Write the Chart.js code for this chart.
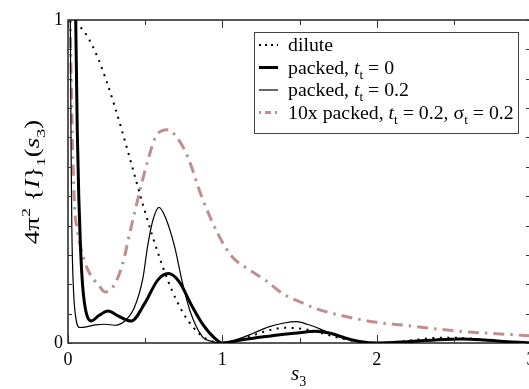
<!DOCTYPE html>
<html>
<head>
<meta charset="utf-8">
<script src="https://cdn.jsdelivr.net/npm/chart.js@4.4.1/dist/chart.umd.min.js"></script>
<style>
    html, body { margin: 0; padding: 0; background: #fff; overflow: hidden; }
    canvas { display: block; }
</style>
</head>
<body>
<canvas id="graficoIntensidad" width="536" height="389"></canvas>
<script>
// Valores (s3 -> 4π² {I}1(s3))
const sDiluido = [0, 0.05, 0.1, 0.15, 0.2, 0.25, 0.3, 0.35, 0.4, 0.45, 0.5, 0.55, 0.6, 0.65, 0.7, 0.75, 0.8, 0.85, 0.9, 0.95, 1, 1.1, 1.2, 1.3, 1.4, 1.5, 1.6, 1.7, 1.8, 1.9, 2, 2.2, 2.4, 2.5, 2.6, 2.8, 3];
const iDiluido = [1, 0.99, 0.967, 0.928, 0.875, 0.81, 0.737, 0.657, 0.573, 0.488, 0.405, 0.327, 0.255, 0.19, 0.135, 0.09, 0.055, 0.029, 0.012, 0.003, 0, 0.008, 0.024, 0.039, 0.047, 0.045, 0.036, 0.023, 0.011, 0.003, 0, 0.007, 0.016, 0.016, 0.014, 0.005, 0];

const sEmpacado0 = [0.03, 0.04, 0.05, 0.06, 0.07, 0.08, 0.09, 0.1, 0.12, 0.15, 0.2, 0.26, 0.32, 0.41, 0.5, 0.58, 0.65, 0.72, 0.8, 0.87, 0.95, 1, 1.1, 1.2, 1.3, 1.4, 1.5, 1.6, 1.7, 1.8, 1.9, 2, 2.2, 2.4, 2.55, 2.7, 2.85, 3];
const iEmpacado0 = [1.6, 1.3, 1.0, 0.66, 0.45, 0.31, 0.21, 0.15, 0.09, 0.068, 0.085, 0.099, 0.085, 0.068, 0.125, 0.194, 0.215, 0.19, 0.117, 0.06, 0.015, 0, 0.008, 0.015, 0.021, 0.027, 0.032, 0.036, 0.03, 0.015, 0.004, 0, 0.004, 0.01, 0.012, 0.009, 0.004, 0];

const sEmpacado02 = [0.008, 0.015, 0.02, 0.025, 0.035, 0.05, 0.075, 0.12, 0.18, 0.24, 0.3, 0.36, 0.43, 0.485, 0.516, 0.55, 0.59, 0.63, 0.69, 0.74, 0.79, 0.87, 0.93, 1, 1.1, 1.2, 1.3, 1.4, 1.48, 1.55, 1.65, 1.75, 1.85, 1.95, 2.1, 2.3, 2.5, 2.7, 2.9, 3];
const iEmpacado02 = [1.5, 1.0, 0.6, 0.35, 0.17, 0.08, 0.048, 0.05, 0.056, 0.058, 0.055, 0.065, 0.11, 0.2, 0.3, 0.38, 0.42, 0.39, 0.3, 0.19, 0.1, 0.02, 0.005, 0, 0.012, 0.03, 0.05, 0.062, 0.066, 0.058, 0.04, 0.02, 0.006, 0.001, 0.002, 0.008, 0.013, 0.009, 0.002, 0];

const sEmpacado10x = [0.008, 0.015, 0.022, 0.03, 0.043, 0.06, 0.087, 0.13, 0.2, 0.24, 0.3, 0.355, 0.4, 0.47, 0.52, 0.57, 0.645, 0.7, 0.775, 0.87, 0.98, 1.065, 1.17, 1.28, 1.4, 1.5, 1.6, 1.7, 1.8, 1.9, 2, 2.2, 2.4, 2.6, 2.8, 3];
const iEmpacado10x = [1.5, 1.0, 0.78, 0.6, 0.42, 0.35, 0.287, 0.225, 0.178, 0.158, 0.18, 0.247, 0.34, 0.48, 0.57, 0.64, 0.66, 0.64, 0.577, 0.448, 0.33, 0.266, 0.228, 0.194, 0.15, 0.128, 0.108, 0.093, 0.082, 0.072, 0.064, 0.054, 0.043, 0.034, 0.028, 0.022];

// Marcas de los ejes
const xMarcas = [0, 0.5, 1, 1.5, 2, 2.5, 3];
const xEtiquetas = ["0", "", "1", "", "2", "", "3"];
const yMarcas = [0, 0.0909, 0.1818, 0.2727, 0.3636, 0.4545, 0.5455, 0.6364, 0.7273, 0.8182, 0.9091, 1];
const yEtiquetas = ["0", "", "", "", "", "", "", "", "", "", "", "1"];

const colorRosa = "#bf8f8f";
const SERIF = "'Liberation Serif', 'DejaVu Serif', serif";

function puntos(xs, ys) {
    return xs.map((x, i) => ({ x: x, y: ys[i] }));
}

// Escribe un texto con partes (cursiva, subíndice, superíndice)
function escribir(ctx, partes, x, y, tam) {
    let px = x;
    partes.forEach(p => {
        const t = p.sub || p.sup ? Math.round(tam * 0.68) : tam;
        ctx.font = (p.it ? "italic " : "") + t + "px " + SERIF;
        const dy = p.sub ? tam * 0.3 : (p.sup ? -tam * 0.45 : 0);
        ctx.fillText(p.t, px, y + dy);
        px += ctx.measureText(p.t).width;
    });
    return px - x;
}

function anchoTexto(ctx, partes, tam) {
    let w = 0;
    partes.forEach(p => {
        const t = p.sub || p.sup ? Math.round(tam * 0.68) : tam;
        ctx.font = (p.it ? "italic " : "") + t + "px " + SERIF;
        w += ctx.measureText(p.t).width;
    });
    return w;
}

const leyenda = [
    { partes: [{ t: "dilute" }], color: "#000", ancho: 2, guion: [2, 4] },
    { partes: [{ t: "packed, " }, { t: "t", it: true }, { t: "t", sub: true }, { t: " = 0" }], color: "#000", ancho: 3, guion: [] },
    { partes: [{ t: "packed, " }, { t: "t", it: true }, { t: "t", sub: true }, { t: " = 0.2" }], color: "#000", ancho: 1.2, guion: [] },
    { partes: [{ t: "10x packed, " }, { t: "t", it: true }, { t: "t", sub: true }, { t: " = 0.2, σ" }, { t: "t", sub: true }, { t: " = 0.2" }], color: colorRosa, ancho: 3, guion: [2, 4, 6, 4] }
];

// Marco, marcas hacia dentro, leyenda y títulos de ejes
const pluginMarco = {
    id: "marco",
    afterDraw(chart) {
        const ctx = chart.ctx;
        const a = chart.chartArea;
        const ex = chart.scales.x;
        const ey = chart.scales.y;
        ctx.save();
        ctx.strokeStyle = "#000";
        ctx.lineWidth = 1.3;
        ctx.setLineDash([]);
        ctx.strokeRect(a.left, a.top, a.right - a.left, a.bottom - a.top);

        ctx.lineWidth = 1;
        ctx.strokeStyle = "#333";
        xMarcas.forEach(v => {
            const px = Math.round(ex.getPixelForValue(v)) + 0.5;
            const largo = Number.isInteger(v) ? 8 : 5;
            ctx.beginPath();
            ctx.moveTo(px, a.bottom); ctx.lineTo(px, a.bottom - largo);
            ctx.moveTo(px, a.top); ctx.lineTo(px, a.top + largo);
            ctx.stroke();
        });
        yMarcas.forEach(v => {
            const py = Math.round(ey.getPixelForValue(v)) + 0.5;
            ctx.beginPath();
            ctx.moveTo(a.left, py); ctx.lineTo(a.left + 4, py);
            ctx.moveTo(a.right, py); ctx.lineTo(a.right - 5, py);
            ctx.stroke();
        });

        // Leyenda
        const lx = 254, ly = 32, lw = 264, lh = 101;
        ctx.fillStyle = "#fff";
        ctx.fillRect(lx, ly, lw, lh);
        ctx.strokeStyle = "#444";
        ctx.lineWidth = 1;
        ctx.strokeRect(lx + 0.5, ly + 0.5, lw, lh);
        leyenda.forEach((item, i) => {
            const base = 51 + i * 22.5;
            ctx.strokeStyle = item.color;
            ctx.lineWidth = item.ancho;
            ctx.setLineDash(item.guion);
            ctx.beginPath();
            ctx.moveTo(259, base - 6);
            ctx.lineTo(278, base - 6);
            ctx.stroke();
            ctx.setLineDash([]);
            ctx.fillStyle = "#000";
            ctx.textBaseline = "alphabetic";
            ctx.textAlign = "left";
            // el texto de la figura original está algo ensanchado
            ctx.save();
            ctx.translate(288, base);
            ctx.scale(1.1, 1);
            escribir(ctx, item.partes, 0, 0, 18);
            ctx.restore();
        });

        // Título eje y
        const tituloY = [{ t: "4π" }, { t: "2", sup: true }, { t: " {" }, { t: "I", it: true }, { t: "}" }, { t: "1", sub: true }, { t: "(" }, { t: "s", it: true }, { t: "3", sub: true }, { t: ")" }];
        ctx.save();
        ctx.translate(39, 182);
        ctx.rotate(-Math.PI / 2);
        ctx.scale(1, 0.75);
        const w = anchoTexto(ctx, tituloY, 27);
        escribir(ctx, tituloY, -w / 2, 0, 27);
        ctx.restore();

        // Título eje x
        ctx.fillStyle = "#000";
        escribir(ctx, [{ t: "s", it: true }, { t: "3", sub: true }], 291, 380, 21);
        ctx.restore();
    }
};

const graficoIntensidad = document.getElementById("graficoIntensidad");

new Chart(graficoIntensidad, {
    type: "line",
    data: {
        datasets: [
            {
                label: "dilute",
                data: puntos(sDiluido, iDiluido),
                borderColor: "#000",
                borderWidth: 2,
                borderDash: [2, 5.5],
                cubicInterpolationMode: "monotone",
                pointRadius: 0
            },
            {
                label: "packed, t_t = 0",
                data: puntos(sEmpacado0, iEmpacado0),
                borderColor: "#000",
                borderWidth: 3,
                cubicInterpolationMode: "monotone",
                pointRadius: 0
            },
            {
                label: "packed, t_t = 0.2",
                data: puntos(sEmpacado02, iEmpacado02),
                borderColor: "#000",
                borderWidth: 1.2,
                cubicInterpolationMode: "monotone",
                pointRadius: 0
            },
            {
                label: "10x packed, t_t = 0.2, σ_t = 0.2",
                data: puntos(sEmpacado10x, iEmpacado10x),
                borderColor: colorRosa,
                borderWidth: 3,
                borderDash: [11, 6, 2.5, 6],
                cubicInterpolationMode: "monotone",
                pointRadius: 0
            }
        ]
    },
    options: {
        responsive: false,
        animation: false,
        devicePixelRatio: 1,
        layout: { padding: { top: 20, right: 5, left: 0, bottom: 0 } },
        plugins: {
            legend: { display: false },
            tooltip: { enabled: false }
        },
        scales: {
            x: {
                type: "linear",
                min: 0,
                max: 3,
                afterFit: (escala) => {
                    escala.height = 46;
                    escala.paddingLeft = 0;
                    escala.paddingRight = 0;
                },
                afterBuildTicks: (escala) => { escala.ticks = xMarcas.map(v => ({ value: v })); },
                grid: { drawOnChartArea: false, drawTicks: false },
                border: { display: false },
                ticks: {
                    autoSkip: false,
                    maxRotation: 0,
                    padding: 6,
                    color: "#000",
                    font: { family: SERIF, size: 18 },
                    callback: (v, i) => xEtiquetas[i]
                }
            },
            y: {
                type: "linear",
                min: 0,
                max: 1,
                afterFit: (escala) => {
                    escala.width = 68;
                    escala.paddingTop = 0;
                    escala.paddingBottom = 0;
                },
                afterBuildTicks: (escala) => { escala.ticks = yMarcas.map(v => ({ value: v })); },
                grid: { drawOnChartArea: false, drawTicks: false },
                border: { display: false },
                ticks: {
                    autoSkip: false,
                    padding: 5,
                    color: "#000",
                    font: { family: SERIF, size: 18 },
                    callback: (v, i) => yEtiquetas[i]
                }
            }
        }
    },
    plugins: [pluginMarco]
});
</script>
</body>
</html>
